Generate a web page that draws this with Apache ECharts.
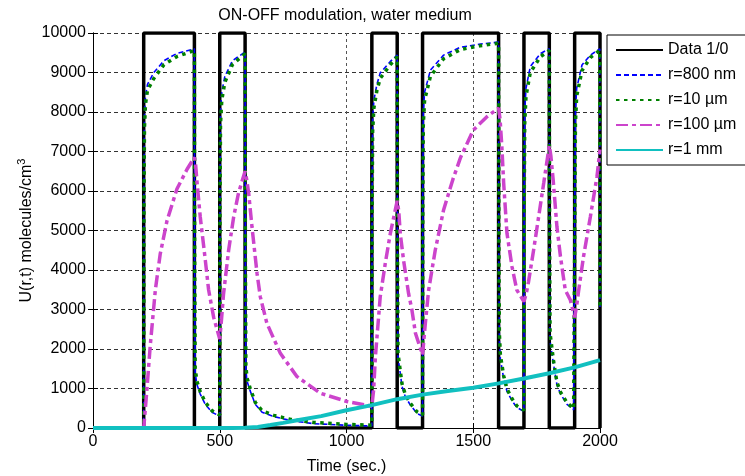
<!DOCTYPE html>
<html>
<head>
<meta charset="utf-8">
<script src="https://cdn.jsdelivr.net/npm/echarts@6/dist/echarts.min.js"></script>
<style>html,body{margin:0;padding:0;background:#fff}#c{width:745px;height:476px}</style>
</head>
<body>
<div id="c"></div>
<script>
// ---- data ----
const seriesNames = ['Data 1/0', 'r=800 nm', 'r=10 \u00b5m', 'r=100 \u00b5m', 'r=1 mm'];
const xTicks = [0, 500, 1000, 1500, 2000];
const yTicks = [0, 1000, 2000, 3000, 4000, 5000, 6000, 7000, 8000, 9000, 10000];

const tData = [0, 200, 400, 500, 600, 1100, 1200, 1300, 1600, 1700, 1800, 1900, 2000];
const dataLevel = [0, 10000, 0, 10000, 0, 10000, 0, 10000, 0, 10000, 0, 10000, 0];

const tFast = [0, 200, 201, 203, 207, 215, 240, 280, 330, 400,
  401, 403, 410, 423, 443, 469, 500,
  501, 503, 508, 520, 550, 600,
  601, 603, 607, 620, 640, 667, 713, 778, 870, 1000, 1100,
  1101, 1103, 1108, 1120, 1133, 1173, 1200,
  1201, 1203, 1212, 1219, 1232, 1252, 1278, 1300,
  1301, 1303, 1308, 1331, 1383, 1449, 1528, 1600,
  1601, 1603, 1607, 1620, 1633, 1653, 1672, 1700,
  1701, 1703, 1708, 1725, 1765, 1800,
  1801, 1803, 1817, 1830, 1844, 1870, 1896, 1900,
  1901, 1903, 1908, 1929, 1962, 1999, 2000];
const r800nm = [0, 0, 6000, 7900, 8400, 8700, 9000, 9300, 9480, 9600,
  4000, 1390, 1100, 860, 600, 400, 300,
  6000, 8000, 8500, 8900, 9300, 9520,
  4000, 1500, 1200, 940, 600, 400, 290, 190, 110, 70, 50,
  5800, 7800, 8300, 8700, 8990, 9280, 9440,
  4000, 1800, 1390, 1050, 790, 580, 370, 300,
  6000, 8000, 8500, 9060, 9440, 9640, 9720, 9770,
  4500, 2200, 1750, 1250, 930, 690, 520, 420,
  6000, 8000, 8600, 9150, 9480, 9600,
  4500, 2200, 1600, 1100, 860, 600, 460, 450,
  6000, 8000, 8600, 9190, 9440, 9600, 3000];
const r10um = [0, 0, 5500, 7600, 8200, 8550, 8850, 9200, 9400, 9560,
  4500, 1500, 1180, 920, 650, 440, 330,
  5500, 7700, 8300, 8750, 9200, 9480,
  4500, 1600, 1280, 1000, 650, 440, 320, 220, 140, 90, 70,
  5300, 7500, 8100, 8550, 8850, 9200, 9400,
  4500, 1900, 1450, 1120, 850, 620, 410, 330,
  5500, 7700, 8300, 8900, 9350, 9580, 9680, 9740,
  5000, 2400, 1850, 1320, 990, 740, 560, 450,
  5500, 7700, 8400, 9000, 9400, 9560,
  5000, 2400, 1680, 1160, 910, 640, 490, 480,
  5500, 7700, 8400, 9050, 9380, 9560, 3000];

const tMid = [0, 200, 206, 213, 226, 246, 265, 292, 331, 371, 400,
  405, 410, 423, 443, 456, 476, 500,
  507, 515, 535, 555, 574, 600,
  606, 614, 627, 647, 660, 686, 739, 805, 897, 1002, 1100,
  1107, 1114, 1133, 1153, 1173, 1200,
  1206, 1212, 1225, 1245, 1258, 1272, 1300,
  1311, 1324, 1350, 1383, 1420, 1450, 1500, 1554, 1600,
  1606, 1613, 1620, 1633, 1653, 1672, 1700,
  1709, 1718, 1738, 1758, 1778, 1800,
  1806, 1815, 1830, 1844, 1863, 1883, 1900,
  1908, 1916, 1935, 1962, 1988, 2000];
const r100um = [0, 0, 450, 1000, 2100, 3500, 4400, 5250, 6050, 6550, 6850,
  6650, 6250, 5350, 4250, 3500, 2800, 2250,
  2750, 3400, 4500, 5350, 5950, 6500,
  6300, 5950, 5100, 3920, 3320, 2650, 1890, 1300, 880, 670, 550,
  960, 1800, 3320, 4170, 4930, 5750,
  5500, 4930, 4250, 3400, 2990, 2400, 1850,
  2650, 3490, 4500, 5520, 6300, 6850, 7540, 7880, 8100,
  7800, 7100, 6200, 4930, 4080, 3490, 3200,
  3400, 3700, 4500, 5350, 6200, 7150,
  6900, 6300, 5100, 4340, 3490, 3240, 2800,
  3100, 3490, 4340, 5350, 6360, 7050];

const tSlow = [0, 550, 600, 650, 700, 750, 800, 900, 1000, 1100, 1200, 1300, 1400, 1500, 1600, 1700, 1800, 1900, 2000];
const r1mm = [0, 0, 5, 25, 75, 130, 190, 300, 450, 580, 730, 845, 935, 1020, 1130, 1255, 1385, 1535, 1720];

// ---- chart ----
const pair = (ts, vs) => ts.map((t, i) => [t, vs[i]]);
const FONT = 'Arial, "Liberation Sans", sans-serif';
const chart = echarts.init(document.getElementById('c'), null, {renderer: 'canvas'});

const baseAxisLine = {show: true, lineStyle: {color: '#000', width: 1}};
const gridLineStyle = {color: '#333', width: 1, type: [4, 3]};
const plain = v => String(v);

const mk = (name, data, color, width, type, extra) => Object.assign({
  name: name, type: 'line', data: data, symbol: 'none', showSymbol: false,
  lineStyle: {color: color, width: width, type: type},
  itemStyle: {color: color},
  animation: false
}, extra || {});

chart.setOption({
  animation: false,
  textStyle: {fontFamily: FONT},
  title: {
    text: 'ON-OFF modulation, water medium',
    left: 345, top: 8, textAlign: 'center', padding: 0,
    textStyle: {fontSize: 16, fontWeight: 'normal', color: '#000', fontFamily: FONT}
  },
  grid: {left: 93, right: 145, top: 33, bottom: 48, show: false, containLabel: false, outerBoundsMode: 'none'},
  legend: {
    orient: 'vertical', left: 607, top: 35,
    itemWidth: 47, itemHeight: 14, itemGap: 9,
    padding: [7, 60, 7, 8],
    borderColor: '#000', borderWidth: 1, backgroundColor: '#fff',
    itemStyle: {opacity: 0},
    textStyle: {fontSize: 16, color: '#000', fontFamily: FONT},
    data: seriesNames
  },
  xAxis: [{
    type: 'value', min: xTicks[0], max: xTicks[xTicks.length - 1], interval: 500,
    name: 'Time (sec.)', nameLocation: 'middle', nameGap: 31, nameMoveOverlap: false,
    nameTextStyle: {fontSize: 16, color: '#000', fontFamily: FONT},
    axisLine: baseAxisLine,
    axisTick: {show: true, inside: true, length: 5, lineStyle: {color: '#000'}},
    axisLabel: {fontSize: 16, color: '#000', margin: 6, fontFamily: FONT, formatter: plain},
    splitLine: {show: true, lineStyle: {color: '#555', width: 1, type: [3, 3]}}
  }, {
    type: 'value', position: 'top', min: 0, max: 2000, interval: 500,
    axisLine: baseAxisLine,
    axisTick: {show: true, inside: true, length: 5, lineStyle: {color: '#000'}},
    axisLabel: {show: false}, splitLine: {show: false}
  }],
  yAxis: [{
    type: 'value', min: yTicks[0], max: yTicks[yTicks.length - 1], interval: 1000,
    name: 'U(r,t) molecules/cm{s|3}', nameLocation: 'middle', nameGap: 55, nameRotate: 90,
    nameMoveOverlap: false,
    nameTextStyle: {fontSize: 16, color: '#000', fontFamily: FONT, lineHeight: 22,
      rich: {s: {fontSize: 11, verticalAlign: 'top', lineHeight: 11, color: '#000', fontFamily: FONT}}},
    axisLine: baseAxisLine,
    axisTick: {show: true, inside: true, length: 5, lineStyle: {color: '#000'}},
    axisLabel: {fontSize: 16, color: '#000', margin: 7, fontFamily: FONT, formatter: plain},
    splitLine: {show: true, lineStyle: gridLineStyle}
  }, {
    type: 'value', position: 'right', min: 0, max: 10000, interval: 1000,
    axisLine: baseAxisLine,
    axisTick: {show: true, inside: true, length: 5, lineStyle: {color: '#000'}},
    axisLabel: {show: false}, splitLine: {show: false}
  }],
  series: [
    mk(seriesNames[0], pair(tData, dataLevel), '#000000', 3.5, 'solid', {step: 'end'}),
    mk(seriesNames[1], pair(tFast, r800nm), '#0000ff', 1.6, [5, 3]),
    mk(seriesNames[2], pair(tFast, r10um), '#008000', 3.5, [3.5, 4.5]),
    mk(seriesNames[3], pair(tMid, r100um), '#cc44cc', 3.5, [12, 4, 4, 4]),
    mk(seriesNames[4], pair(tSlow, r1mm), '#11c0c0', 4, 'solid')
  ]
});
</script>
</body>
</html>
